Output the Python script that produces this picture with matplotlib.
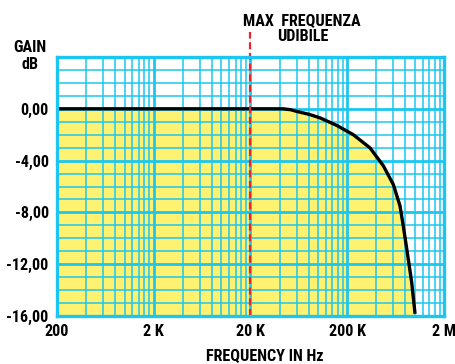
#!/usr/bin/env python

import matplotlib
matplotlib.use('Agg')
import matplotlib.pyplot as plt
from matplotlib.ticker import FixedLocator, NullLocator

# frequency response
freq_hz = [200, 43400, 52000, 60000, 80000, 104600, 155600, 231000, 344000, 472000,
           599000, 702000, 759000, 835000, 927000, 1000000]
gain_db = [0.0, 0.0, -0.07, -0.2, -0.42, -0.7, -1.28, -2.0, -3.02, -4.4,
           -5.85, -7.5, -9.05, -11.1, -13.4, -15.7]

x_ticks = [200, 2000, 20000, 200000, 2000000]
x_labels = ['200', '2 K', '20 K', '200 K', '2 M']
y_ticks = [0, -4, -8, -12, -16]
y_labels = ['0,00', '-4,00', '-8,00', '-12,00', '-16,00']
max_audible = 20000

plt.rcParams['font.family'] = ['Roboto Condensed', 'DejaVu Sans']
plt.rcParams['font.weight'] = 'bold'

grid_col = '#1cc6f0'
fill_col = '#fff271'
fs = 11.6

fig = plt.figure(figsize=(4.56, 3.64), dpi=100)
ax = fig.add_axes([57/456, 1 - 316/364, 387/456, 259/364])
ax.set_xscale('log')
ax.set_xlim(200, 2000000)
ax.set_ylim(-16, 4)

ax.fill_between(freq_hz, -16, gain_db, color=fill_col, zorder=1, linewidth=0)

# grid: 2..9 inside each decade, thicker lines on the decades
minor_x = [m * 200 * 10**d for d in range(4) for m in range(2, 10)]
for v in minor_x:
    ax.axvline(v, color=grid_col, lw=1.1, zorder=2)
for v in x_ticks:
    ax.axvline(v, color=grid_col, lw=2.0, zorder=2)
for v in range(-16, 5):
    ax.axhline(v, color=grid_col, lw=2.0 if v % 4 == 0 else 1.1, zorder=2)

ax.plot(freq_hz, gain_db, color='black', lw=2.4, zorder=4, solid_joinstyle='round')

# max audible frequency marker, goes up past the frame
ax.plot([max_audible, max_audible], [-16, 5.95], color='#e8242c', lw=1.6,
        dashes=(3.2, 1.6), zorder=5, clip_on=False)
ax.text(max_audible * 3.4, 6.85, 'MAX  FREQUENZA', ha='center', va='center', fontsize=fs)
ax.text(max_audible * 3.5, 5.55, 'UDIBILE', ha='center', va='center', fontsize=fs)

for s in ax.spines.values():
    s.set_color(grid_col)
    s.set_linewidth(2.4)
    s.set_zorder(6)

ax.xaxis.set_major_locator(FixedLocator(x_ticks))
ax.xaxis.set_minor_locator(NullLocator())
ax.set_xticklabels(x_labels)
ax.set_yticks(y_ticks)
ax.set_yticklabels(y_labels)
ax.tick_params(length=0, labelsize=fs, pad=6)

fig.text(30/456, 1 - 56/364, 'GAIN\ndB', ha='center', va='center', fontsize=fs,
         linespacing=1.15)
fig.text(265/456, 1 - 356/364, 'FREQUENCY IN Hz', ha='center', va='center', fontsize=fs)

fig.savefig('out.png', dpi=100)
